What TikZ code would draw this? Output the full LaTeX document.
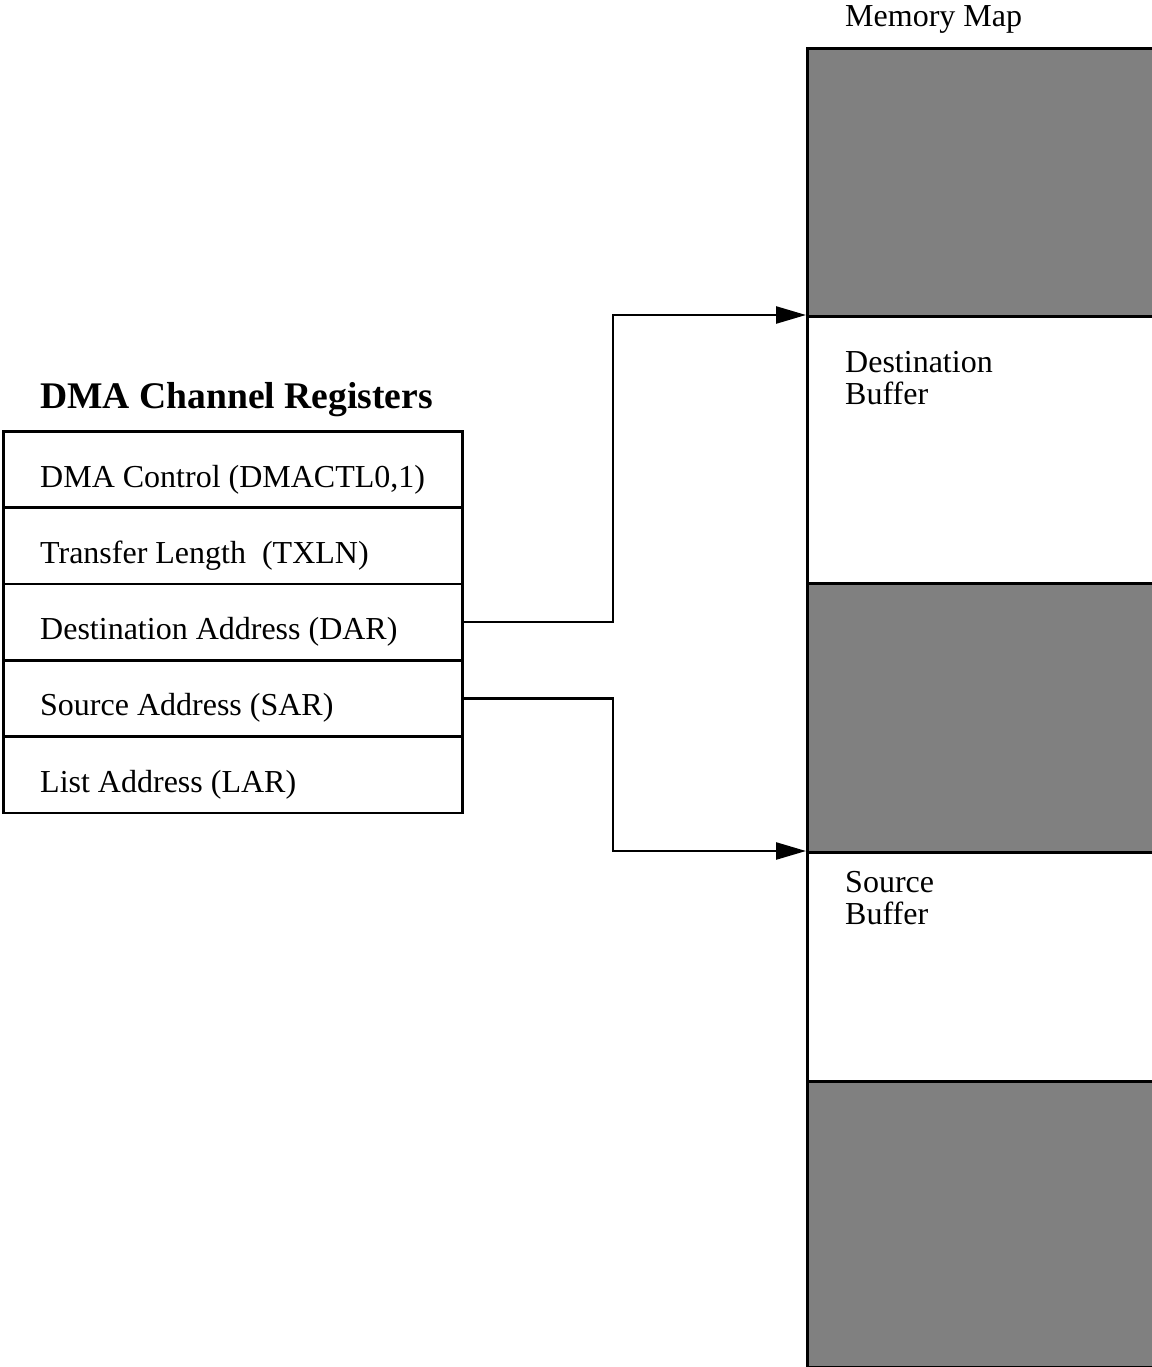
\documentclass[tikz,border=0pt]{standalone}
\usepackage{fontspec}
\setmainfont{Liberation Serif}
\usetikzlibrary{arrows.meta}
\definecolor{memgray}{HTML}{808080}
\tikzset{
  regrow/.style={draw=black, line width=2.6pt, minimum width=459pt, minimum height=76.3pt, inner sep=0pt, anchor=north west},
  regtext/.style={anchor=base west, inner sep=0pt, font=\fontsize{32}{32}\selectfont},
  memblk/.style={draw=black, line width=2.6pt, minimum width=360pt, inner sep=0pt, anchor=north west},
  memgrey/.style={memblk, fill=memgray},
  memwhite/.style={memblk, fill=white},
  memtext/.style={anchor=base west, inner sep=0pt, align=left, font=\fontsize{32}{32}\selectfont},
  conn/.style={draw=black, line width=2.5pt, -{Triangle[length=30pt,width=17pt]}},
}
\begin{document}
\begin{tikzpicture}[x=1pt,y=-1pt]
\useasboundingbox (0,0) rectangle (1151,1367);
% title
\node[anchor=base west, inner sep=0pt, font=\fontsize{37.6}{37.6}\selectfont\bfseries] (title) at (40,408) {DMA Channel Registers};
% register rows
\node[regrow] (r1) at (2,430) {};
\node[regrow] (r2) at (2,506.3) {};
\node[regrow] (r3) at (2,582.6) {};
\node[regrow] (r4) at (2,658.9) {};
\node[regrow] (r5) at (2,735.2) {};
\node[regtext] (t1) at (40,487) {DMA Control (DMACTL0,1)};
\node[regtext] (t2) at (40,563.3) {Transfer Length\ \ (TXLN)};
\node[regtext] (t3) at (40,639.6) {Destination Address (DAR)};
\node[regtext] (t4) at (40,715.9) {Source Address (SAR)};
\node[regtext] (t5) at (40,792.2) {List Address (LAR)};
% memory map
\node[anchor=base west, inner sep=0pt, font=\fontsize{32}{32}\selectfont] (mmt) at (845,27) {Memory Map};
\node[memgrey, minimum height=268pt] (m1) at (806,47) {};
\node[memwhite, minimum height=267pt] (m2) at (806,315) {};
\node[memgrey, minimum height=269pt] (m3) at (806,582) {};
\node[memwhite, minimum height=229pt] (m4) at (806,851) {};
\node[memgrey, minimum height=286pt] (m5) at (806,1080) {};
\node[memtext] (dbt) at (845,404) {Destination\\Buffer};
\node[memtext] (sbt) at (845,924) {Source\\Buffer};
% connectors
\draw[conn] (r3.east) -| ([xshift=-193pt]m2.north west) -- (m2.north west);
\draw[conn] (r4.east) -| ([xshift=-193pt]m4.north west) -- (m4.north west);
\end{tikzpicture}
\end{document}
